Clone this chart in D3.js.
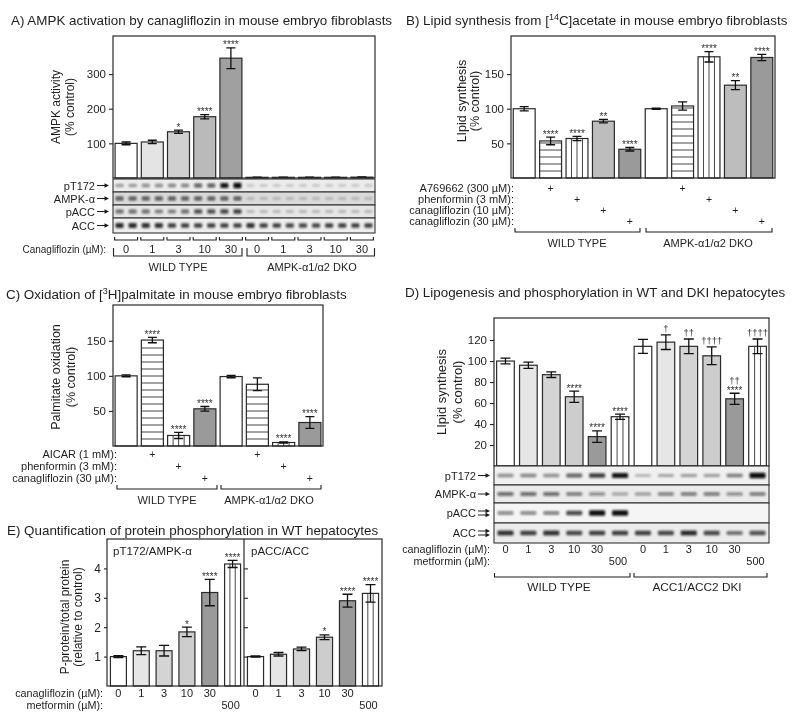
<!DOCTYPE html>
<html><head><meta charset="utf-8">
<script src="https://cdn.jsdelivr.net/npm/d3@7"></script>
<style>body{margin:0;background:#fff} svg{will-change:transform}</style>
</head><body>
<script>
// ---------------- DATA ----------------
// Panel A
const aConc = ["0","1","3","10","30","0","1","3","10","30"];
const aGroups = ["WILD TYPE","AMPK-α1/α2 DKO"];
const aValues = [100,104,133.5,177,346, 2,2,2,2,2.5];
const aErrors = [4,5,4.5,6,30, 0.4,0.4,0.4,0.4,0.4];
const aStars = ["","","*","****","****","","","","",""];
const aTicks = [100,200,300];
const aBlotRows = ["pT172","AMPK-α","pACC","ACC"];
const aBlotPT172 = [0.30,0.32,0.35,0.35,0.40,0.42,0.58,0.60,0.95,1.0, 0.04,0.04,0.04,0.04,0.04,0.04,0.04,0.04,0.04,0.04];
const aBlotAMPK = [0.6,0.6,0.6,0.6,0.6,0.6,0.6,0.6,0.6,0.6, 0.07,0.07,0.07,0.07,0.07,0.07,0.07,0.07,0.07,0.07];
const aBlotPACC = [0.5,0.5,0.5,0.45,0.45,0.5,0.65,0.65,0.7,0.75, 0.12,0.12,0.12,0.12,0.12,0.12,0.12,0.12,0.12,0.12];
const aBlotACC = [0.85,0.85,0.8,0.8,0.75,0.75,0.75,0.75,0.75,0.75, 0.8,0.75,0.75,0.7,0.7,0.7,0.75,0.75,0.75,0.75];

// Panel B
const bGroups = ["WILD TYPE","AMPK-α1/α2 DKO"];
const bTreatments = ["A769662 (300 µM):","phenformin (3 mM):","canagliflozin (10 µM):","canagliflozin (30 µM):"];
const bTreatIdx = [-1,0,1,2,3,-1,0,1,2,3];
const bValues = [100,53.5,57,82,41.5, 100,104,175,134,174];
const bErrors = [3,5.5,3,2.5,2.5, 1,6,7.5,6.5,4.5];
const bStars = ["","****","****","**","****","","","****","**","****"];
const bTicks = [50,100,150];

// Panel C
const cGroups = ["WILD TYPE","AMPK-α1/α2 DKO"];
const cTreatments = ["AICAR (1 mM):","phenformin (3 mM):","canagliflozin (30 µM):"];
const cTreatIdx = [-1,0,1,2,-1,0,1,2];
const cValues = [100,151,15,53, 99,88,5,33.5];
const cErrors = [1.3,3.8,4.3,3.3, 1.7,9,1,8.3];
const cStars = ["","****","****","****","","","****","****"];
const cTicks = [50,100,150];

// Panel D
const dGroups = ["WILD TYPE","ACC1/ACC2 DKI"];
const dCana = ["0","1","3","10","30","","0","1","3","10","30",""];
const dMet = ["","","","","","500","","","","","","500"];
const dValues = [100,96,87,66,28,47, 114,118,114,105,64,114];
const dErrors = [2.7,3,2.7,5.4,5.4,2.5, 6.7,7,7,8.4,5.3,7];
const dStars = ["","","","****","****","****","","","","","****",""];
const dDaggers = ["","","","","","","","†","††","††††","††","††††"];
const dTicks = [20,40,60,80,100,120];
const dBlotRows = ["pT172","AMPK-α","pACC","ACC"];
const dBlotPT172 = [0.35,0.4,0.35,0.55,0.75,0.95, 0.15,0.2,0.3,0.3,0.45,1.0];
const dBlotAMPK = [0.5,0.5,0.5,0.45,0.35,0.25, 0.3,0.4,0.45,0.45,0.35,0.45];
const dBlotPACC = [0.4,0.4,0.45,0.7,0.98,0.98, 0,0,0,0,0,0];
const dBlotACC = [0.8,0.75,0.8,0.7,0.75,0.75, 0.75,0.7,0.85,0.7,0.5,0.65];

// Panel E
const eCana = ["0","1","3","10","30",""];
const eMet = ["","","","","","500"];
const eLeftValues = [1.0,1.2,1.2,1.84,3.18,4.15];
const eLeftErrors = [0.03,0.13,0.18,0.16,0.45,0.12];
const eRightValues = [1.0,1.08,1.26,1.66,2.9,3.15];
const eRightErrors = [0.02,0.06,0.06,0.08,0.22,0.3];
const eStars = ["","","","*","****","****"];
const eTicks = [1,2,3,4];
const eSubTitles = ["pT172/AMPK-α","pACC/ACC"];

// ---------------- DRAWING ----------------
const FONT = "'Liberation Sans', Arial, Helvetica, sans-serif";
const INK = "#1e1e1e";
const svg = d3.select("body").append("svg").attr("width",800).attr("height",722)
  .attr("font-family",FONT).style("display","block");
svg.append("rect").attr("width",800).attr("height",722).attr("fill","#fff");
const defs = svg.append("defs");
defs.append("filter").attr("id","blur").attr("x","-50%").attr("y","-150%").attr("width","200%").attr("height","400%")
  .append("feGaussianBlur").attr("stdDeviation",0.8);

function text(x,y,s,opt={}) {
  return svg.append("text").attr("x",x).attr("y",y).attr("font-size",opt.fs||11)
    .attr("text-anchor",opt.anchor||"start").attr("fill",opt.fill||INK).text(s);
}
function title(x,y,parts) {
  const t = svg.append("text").attr("x",x).attr("y",y).attr("font-size",13.4).attr("fill",INK);
  parts.forEach(p=>{
    const ts = t.append("tspan").text(p.t);
    if (p.sup) ts.attr("font-size",9).attr("dy",-5);
    if (p.after) ts.attr("dy",5);
  });
}
function yLabel(xs,yc,lines,fs) {
  lines.forEach((l,i)=>svg.append("text").attr("transform",`translate(${xs[i]},${yc}) rotate(-90)`)
    .attr("text-anchor","middle").attr("font-size",fs).attr("fill",INK).text(l));
}
function bracket(x1,x2,y,h) {
  svg.append("path").attr("d",`M${x1},${y-h}V${y}H${x2}V${y-h}`).attr("fill","none").attr("stroke",INK).attr("stroke-width",1.1);
}
function arrow(x1,x2,y) {
  svg.append("line").attr("x1",x1).attr("x2",x2-3).attr("y1",y).attr("y2",y).attr("stroke",INK).attr("stroke-width",1);
  svg.append("path").attr("d",`M${x2},${y}L${x2-4.5},${y-2.3}L${x2-4.5},${y+2.3}Z`).attr("fill",INK);
}

function barPanel(o) {
  const g = svg.append("g");
  const n = o.values.length;
  const x = d3.scaleBand().domain(d3.range(n)).range([o.x0,o.x1]).paddingInner(o.pad).paddingOuter(o.pad/2);
  const y = d3.scaleLinear().domain([0,o.yMax]).range([o.yBottom,o.yTop]);
  const bw = x.bandwidth();
  o.values.forEach((v,i)=>{
    const f = o.fills[i];
    const bx = x(i), by = y(v), y0 = y(0);
    g.append("rect").attr("x",bx).attr("y",by).attr("width",bw).attr("height",y0-by)
      .attr("fill",(f==="h"||f==="v")?"#fff":f);
    if (f==="h") {
      d3.range(y0-7, by+1.5, -7).forEach(yy=>g.append("line").attr("x1",bx).attr("x2",bx+bw).attr("y1",yy).attr("y2",yy)
        .attr("stroke","#333").attr("stroke-width",0.9));
    }
    if (f==="v") {
      const k = Math.round(bw/6);
      d3.range(1,k).forEach(j=>g.append("line").attr("x1",bx+bw*j/k).attr("x2",bx+bw*j/k).attr("y1",by).attr("y2",y0)
        .attr("stroke","#333").attr("stroke-width",0.9));
    }
    g.append("rect").attr("x",bx).attr("y",by).attr("width",bw).attr("height",y0-by)
      .attr("fill","none").attr("stroke","#2a2a2a").attr("stroke-width",1.2);
    const e = o.errors[i], cx = bx+bw/2, ch = o.cap;
    if (e>0) {
      g.append("path").attr("d",`M${cx},${y(v-e)}V${y(v+e)}M${cx-ch},${y(v+e)}H${cx+ch}M${cx-ch},${y(v-e)}H${cx+ch}`)
        .attr("stroke","#111").attr("stroke-width",1.3).attr("fill","none");
    }
    const top = y(v+e);
    if (o.stars && o.stars[i]) {
      g.append("text").attr("x",cx).attr("y",top+0.5).attr("text-anchor","middle").attr("font-size",10)
        .attr("fill","#333").text(o.stars[i]);
    }
    if (o.daggers && o.daggers[i]) {
      const base = (o.stars && o.stars[i]) ? top-9 : top-3;
      g.append("text").attr("x",cx).attr("y",base).attr("text-anchor","middle").attr("font-size",9.5)
        .attr("fill","#333").text(o.daggers[i]);
    }
  });
  if (o.axis !== false) {
    const ax = (o.axisRight ? d3.axisRight(y) : d3.axisLeft(y)).tickValues(o.ticks).tickSize(o.tickSize||4).tickPadding(3)
      .tickFormat(o.noLabels ? (()=>"") : d3.format("d"));
    const ag = g.append("g").attr("transform",`translate(${o.axisX!==undefined?o.axisX:o.x0},0)`).call(ax);
    ag.attr("font-family",FONT).attr("font-size",o.tickFs||11.5);
    ag.select(".domain").remove();
    ag.selectAll("line").attr("stroke","#222").attr("stroke-width",1.1);
    ag.selectAll("text").attr("fill",INK);
  }
  return {x,y};
}

function frame(x0,x1,y0,y1) {
  svg.append("rect").attr("x",x0).attr("y",y0).attr("width",x1-x0).attr("height",y1-y0)
    .attr("fill","none").attr("stroke","#2a2a2a").attr("stroke-width",1.2);
}

function blot(x0,x1,rows,bgs,data,bandW,labels,labelX,doubles) {
  const lanes = data[0].length;
  const xl = d3.scaleBand().domain(d3.range(lanes)).range([x0,x1]);
  rows.forEach((r,ri)=>{
    svg.append("rect").attr("x",x0).attr("y",r[0]).attr("width",x1-x0).attr("height",r[1]-r[0]).attr("fill",bgs[ri]);
    const cy = (r[0]+r[1])/2;
    const gb = svg.append("g").attr("filter","url(#blur)");
    data[ri].forEach((v,li)=>{
      if (v<=0) return;
      const h = 2.2 + v*3.2;
      gb.append("rect").attr("x",xl(li)+xl.bandwidth()/2-bandW/2).attr("y",cy-h/2).attr("width",bandW).attr("height",h)
        .attr("rx",1.2).attr("fill","#111").attr("fill-opacity",Math.min(1,0.15+v*0.85));
    });
    svg.append("rect").attr("x",x0).attr("y",r[0]).attr("width",x1-x0).attr("height",r[1]-r[0])
      .attr("fill","none").attr("stroke","#333").attr("stroke-width",1.1);
    text(labelX, cy+4, labels[ri], {fs:11, anchor:"end"});
    if (doubles && doubles[ri]) { arrow(labelX+2,labelX+14,cy-2); arrow(labelX+2,labelX+14,cy+2); }
    else arrow(labelX+2,labelX+14,cy);
  });
}

// ===== Panel A =====
title(11,24.5,[{t:"A) AMPK activation by canagliflozin in mouse embryo fibroblasts"}]);
const aFills = ["#ffffff","#e4e4e4","#d0d0d0","#bababa","#a0a0a0","#ffffff","#e4e4e4","#d0d0d0","#bababa","#a0a0a0"];
const A = barPanel({x0:113,x1:375,yTop:36,yBottom:178,yMax:410,ticks:aTicks,values:aValues,errors:aErrors,
  fills:aFills,stars:aStars,pad:0.16,cap:4.5});
frame(113,375,36,178);
yLabel([60,74],107,["AMPK activity","(% control)"],12);
blot(113,375,[[179,192],[192,205],[205,218],[218,233]],["#ececec","#dadada","#e6e6e6","#eeeeee"],
  [aBlotPT172,aBlotAMPK,aBlotPACC,aBlotACC],8,aBlotRows,95,null);
aConc.forEach((c,i)=>{
  const bx = A.x(i), bw = A.x.bandwidth();
  bracket(bx-0.5,bx+bw+0.5,240,3);
  text(bx+bw/2,253,c,{fs:11,anchor:"middle"});
});
text(106,253,"Canagliflozin (µM):",{fs:10,anchor:"end"});
bracket(113.5,242,256,8); bracket(247,374.5,256,8);
text(178,271,aGroups[0],{fs:11,anchor:"middle"});
text(312,271,aGroups[1],{fs:11,anchor:"middle"});

// ===== Panel B =====
title(406,24.5,[{t:"B) Lipid synthesis from ["},{t:"14",sup:true},{t:"C]acetate in mouse embryo fibroblasts",after:true}]);
const bFillMap = ["h","v","#bdbdbd","#9a9a9a"];
const bFills = bTreatIdx.map(t=>t<0?"#ffffff":bFillMap[t]);
const B = barPanel({x0:511,x1:775,yTop:36,yBottom:178,yMax:205,ticks:bTicks,values:bValues,errors:bErrors,
  fills:bFills,stars:bStars,pad:0.17,cap:4.5});
frame(511,775,36,178);
yLabel([466,479],101,["LIpid synthesis","(% control)"],12.5);
bTreatments.forEach((t,k)=>{
  const yb = 191.5 + k*11.3;
  text(514,yb,t,{fs:11,anchor:"end"});
  bTreatIdx.forEach((ti,i)=>{ if (ti===k) text(B.x(i)+B.x.bandwidth()/2,yb,"+",{fs:10.5,anchor:"middle"}); });
});
bracket(515,640,232,4); bracket(646,772,232,4);
text(577,246.5,bGroups[0],{fs:11,anchor:"middle"});
text(708,246.5,bGroups[1],{fs:11,anchor:"middle"});

// ===== Panel C =====
title(6,299,[{t:"C) Oxidation of ["},{t:"3",sup:true},{t:"H]palmitate in mouse embryo fibroblasts",after:true}]);
const cFillMap = ["h","v","#9a9a9a"];
const cFills = cTreatIdx.map(t=>t<0?"#ffffff":cFillMap[t]);
const C = barPanel({x0:113,x1:323,yTop:305,yBottom:446,yMax:201,ticks:cTicks,values:cValues,errors:cErrors,
  fills:cFills,stars:cStars,pad:0.16,cap:4.5});
frame(113,323,305,446);
yLabel([60,75],377,["Palmitate oxidation","(% control)"],12.5);
cTreatments.forEach((t,k)=>{
  const yb = 458 + k*12;
  text(117,yb,t,{fs:11,anchor:"end"});
  cTreatIdx.forEach((ti,i)=>{ if (ti===k) text(C.x(i)+C.x.bandwidth()/2,yb,"+",{fs:10.5,anchor:"middle"}); });
});
bracket(117,217,489,4); bracket(221,321,489,4);
text(167,504,cGroups[0],{fs:11,anchor:"middle"});
text(269,504,cGroups[1],{fs:11,anchor:"middle"});

// ===== Panel D =====
title(405,297,[{t:"D) Lipogenesis and phosphorylation in WT and DKI hepatocytes"}]);
const dFills = ["#ffffff","#e6e6e6","#d4d4d4","#cdcdcd","#9a9a9a","v","#ffffff","#e6e6e6","#d4d4d4","#cdcdcd","#9a9a9a","v"];
const D = barPanel({x0:494,x1:769,yTop:318,yBottom:466,yMax:141,ticks:dTicks,values:dValues,errors:dErrors,
  fills:dFills,stars:dStars,daggers:dDaggers,pad:0.23,cap:5});
frame(494,769,318,466);
yLabel([446,462],392,["LIpid synthesis","(% control)"],13);
blot(494,769,[[466,485],[485,503],[503,523],[523,543]],["#f0f0f0","#ebebeb","#f5f5f5","#ececec"],
  [dBlotPT172,dBlotAMPK,dBlotPACC,dBlotACC],16,dBlotRows,476,[false,false,true,true]);
text(490,553,"canagliflozin (µM):",{fs:10.8,anchor:"end"});
text(490,565,"metformin (µM):",{fs:10.8,anchor:"end"});
dCana.forEach((c,i)=>{ if (c) text(D.x(i)+D.x.bandwidth()/2,553,c,{fs:11,anchor:"middle"}); });
dMet.forEach((c,i)=>{ if (c) text(D.x(i)+D.x.bandwidth()/2-2,565,c,{fs:11,anchor:"middle"}); });
bracket(494.5,630,577,4); bracket(634,767,577,4);
text(559,591,dGroups[0],{fs:11.8,anchor:"middle"});
text(697,591,dGroups[1],{fs:11.8,anchor:"middle"});

// ===== Panel E =====
title(7,535,[{t:"E) Quantification of protein phosphorylation in WT hepatocytes"}]);
const eFills = ["#ffffff","#e6e6e6","#d4d4d4","#cdcdcd","#9a9a9a","v"];
const EL = barPanel({x0:107,x1:244,yTop:539,yBottom:686,yMax:5.0,ticks:eTicks,values:eLeftValues,errors:eLeftErrors,
  fills:eFills,stars:eStars,pad:0.3,cap:5,tickSize:3,tickFs:12});
const ER = barPanel({x0:244,x1:382,yTop:539,yBottom:686,yMax:5.0,ticks:eTicks,values:eRightValues,errors:eRightErrors,
  fills:eFills,stars:eStars,pad:0.3,cap:5,axisRight:true,noLabels:true,tickSize:4,axisX:244});
frame(107,382,539,686);
svg.append("line").attr("x1",244).attr("x2",244).attr("y1",539).attr("y2",686).attr("stroke","#2a2a2a").attr("stroke-width",1.2);
text(113,555,eSubTitles[0],{fs:11.5});
text(251,555,eSubTitles[1],{fs:11.5});
yLabel([69,82],617,["P-protein/total protein","(relative to control)"],12);
text(103,697,"canagliflozin (µM):",{fs:10.8,anchor:"end"});
text(103,708.5,"metformin (µM):",{fs:10.8,anchor:"end"});
[EL,ER].forEach(P=>{
  eCana.forEach((c,i)=>{ if (c) text(P.x(i)+P.x.bandwidth()/2,697,c,{fs:11,anchor:"middle"}); });
  eMet.forEach((c,i)=>{ if (c) text(P.x(i)+P.x.bandwidth()/2-2,708.5,c,{fs:11,anchor:"middle"}); });
});
</script>
</body></html>
